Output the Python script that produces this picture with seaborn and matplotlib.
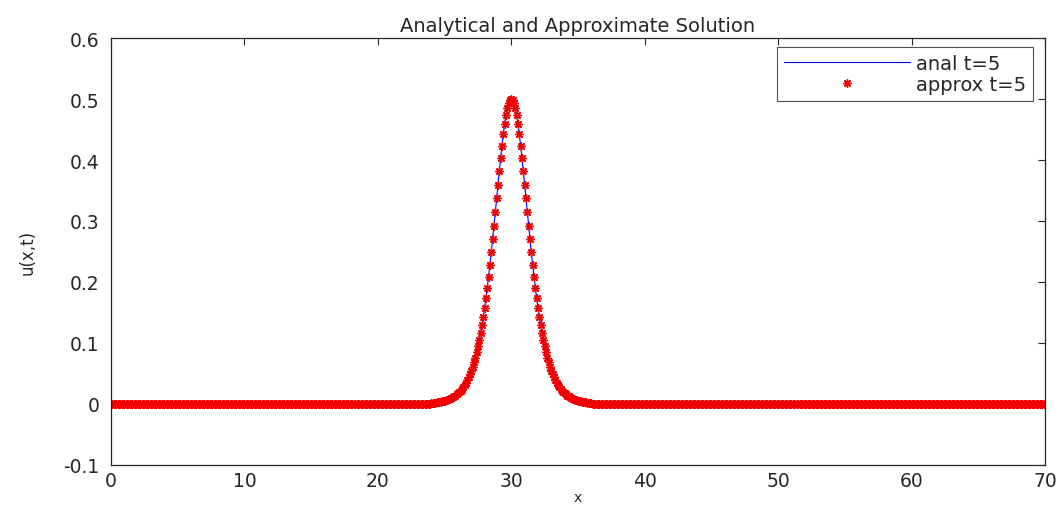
import numpy as np
import pandas as pd
import matplotlib
matplotlib.use("Agg")
import matplotlib.pyplot as plt
import seaborn as sns

sns.set_style("white")
plt.rcParams['font.family'] = ['DejaVu Sans']

# grid: x = 0 .. 70, step 0.1 (701 nodes)
x_start, x_stop, x_step = 0.0, 70.0, 0.1

# u(x, t=5), x = 24.0 .. 36.0 (outside this band the wave is flat at 0)
peak_x_from = 24.0
u_peak = [
    0.0017, 0.0019, 0.0021, 0.0024, 0.0027, 0.0030, 0.0034, 0.0038, 0.0043, 0.0048,
    0.0055, 0.0061, 0.0069, 0.0077, 0.0087, 0.0098, 0.0110, 0.0124, 0.0139, 0.0156,
    0.0175, 0.0197, 0.0221, 0.0248, 0.0278, 0.0312, 0.0349, 0.0391, 0.0438, 0.0490,
    0.0548, 0.0612, 0.0684, 0.0762, 0.0849, 0.0945, 0.1051, 0.1166, 0.1292, 0.1428,
    0.1577, 0.1736, 0.1908, 0.2090, 0.2284, 0.2487, 0.2699, 0.2919, 0.3143, 0.3370,
    0.3596, 0.3818, 0.4033, 0.4236, 0.4422, 0.4589, 0.4732, 0.4847, 0.4931, 0.4983,
    0.5000,
    0.4983, 0.4931, 0.4847, 0.4732, 0.4589, 0.4422, 0.4236, 0.4033, 0.3818, 0.3596,
    0.3370, 0.3143, 0.2919, 0.2699, 0.2487, 0.2284, 0.2090, 0.1908, 0.1736, 0.1577,
    0.1428, 0.1292, 0.1166, 0.1051, 0.0945, 0.0849, 0.0762, 0.0684, 0.0612, 0.0548,
    0.0490, 0.0438, 0.0391, 0.0349, 0.0312, 0.0278, 0.0248, 0.0221, 0.0197, 0.0175,
    0.0156, 0.0139, 0.0124, 0.0110, 0.0098, 0.0087, 0.0077, 0.0069, 0.0061, 0.0055,
    0.0048, 0.0043, 0.0038, 0.0034, 0.0030, 0.0027, 0.0024, 0.0021, 0.0019, 0.0017,
]

x_ticks = [0, 10, 20, 30, 40, 50, 60, 70]
y_ticks = [-0.1, 0, 0.1, 0.2, 0.3, 0.4, 0.5, 0.6]
y_tick_labels = ['-0.1', '0', '0.1', '0.2', '0.3', '0.4', '0.5', '0.6']

# build the full series on the grid
x = np.round(np.arange(x_start, x_stop + x_step / 2, x_step), 1)
n_left = int(round((peak_x_from - x_start) / x_step))
n_right = len(x) - n_left - len(u_peak)
u_anal = [0.0] * n_left + u_peak + [0.0] * n_right
# the numerical solution sits on top of the exact one at this scale
u_approx = list(u_anal)

df = pd.DataFrame({'x': x, 'anal': u_anal, 'approx': u_approx})

fig = plt.figure(figsize=(10.59, 5.06), dpi=100)
ax = fig.add_axes([0.1048, 0.0791, 0.882, 0.8438])

sns.lineplot(data=df, x='x', y='anal', ax=ax, color='#0000ff', linewidth=0.8,
             label='anal t=5', sort=False)
sns.lineplot(data=df, x='x', y='approx', ax=ax, color='#f00000', linestyle='',
             marker=(8, 2, 0), markersize=6, markeredgewidth=1.0,
             markeredgecolor='#f00000', label='approx t=5', sort=False)

ax.set_xlim(0, 70)
ax.set_ylim(-0.1, 0.6)
ax.set_xticks(x_ticks)
ax.set_yticks(y_ticks)
ax.set_yticklabels(y_tick_labels)
ax.tick_params(direction='in', length=5, width=0.8, top=True, right=True,
               labelsize=13.5, colors='#262626')
ax.tick_params(axis='x', pad=4)
ax.tick_params(axis='y', pad=8)
for s in ax.spines.values():
    s.set_color('#262626')
    s.set_linewidth(0.9)

ax.set_title('Analytical and Approximate Solution', fontsize=14, pad=5, color='#262626')
ax.set_xlabel('x', fontsize=10, color='#262626', va='center')
ax.set_ylabel('u(x,t)', fontsize=12, color='#262626')
ax.xaxis.set_label_coords(0.5, -0.074)
ax.yaxis.set_label_coords(-0.08, 0.5)

leg = ax.legend(loc='upper right', bbox_to_anchor=(0.987, 0.979), fontsize=14,
                handlelength=6.5, frameon=True, fancybox=False, borderpad=0.35,
                labelspacing=0.1, handletextpad=0.3, borderaxespad=0)
leg.get_frame().set_edgecolor('#262626')
leg.get_frame().set_linewidth(0.8)

fig.savefig('out.png', dpi=100)
